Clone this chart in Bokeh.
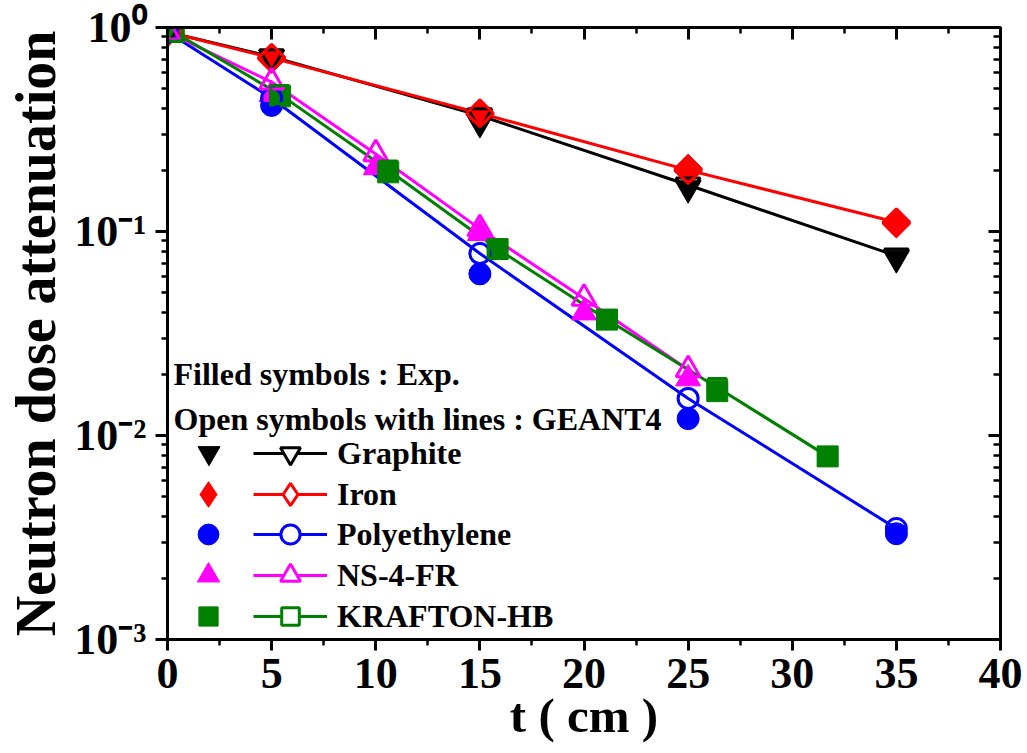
import numpy as np
from bokeh.plotting import figure
from bokeh.models import (LinearAxis, LogAxis, LogTicker, SingleIntervalTicker,
                          Label, Legend, LegendItem, CustomJSTickFormatter)
from bokeh.embed import file_html
from bokeh.resources import INLINE

# ---------------- data ----------------
graphite_t = [0, 5, 15, 25, 35]
graphite_exp = [0.95, 0.71, 0.34, 0.163, 0.074]
graphite_sim = [0.95, 0.72, 0.37, 0.169, 0.076]

iron_t = [0, 5, 15, 25, 35]
iron_exp = [0.95, 0.70, 0.375, 0.204, 0.109]
iron_sim = [0.95, 0.71, 0.38, 0.200, 0.111]

poly_t = [0, 5, 15, 25, 35]
poly_exp = [0.95, 0.415, 0.062, 0.0121, 0.0033]
poly_sim = [0.95, 0.45, 0.078, 0.0152, 0.0035]

ns_t = [0, 5, 10, 15, 20, 25]
ns_exp = [0.95, 0.47, 0.206, 0.098, 0.040, 0.019]
ns_sim = [0.95, 0.54, 0.240, 0.103, 0.047, 0.021]

kr_t = [0.3, 5.4, 10.6, 15.85, 21.1, 26.4, 31.7]
kr_exp = [0.95, 0.46, 0.195, 0.082, 0.037, 0.0165, 0.0079]
kr_sim = [0.95, 0.47, 0.200, 0.082, 0.037, 0.0172, 0.0079]

series_names = ["Graphite", "Iron", "Polyethylene", "NS-4-FR", "KRAFTON-HB"]
# y tick labels, indexed by -exponent (10^0, 10^-1, 10^-2, 10^-3)
y_tick_labels = ["10\u2070", "10\u207b\u00b9", "10\u207b\u00b2", "10\u207b\u00b3"]

header_exp = "Filled symbols : Exp."
header_sim = "Open symbols with lines : GEANT4"
x_title = "t ( cm )"
y_title = "Neutron dose attenuation"

FONT = "Liberation Serif"

p = figure(width=1027, height=753, x_range=(0, 40), y_range=(0.001, 1),
           y_axis_type="log", output_backend="svg", toolbar_location=None,
           min_border_left=167, min_border_right=27, min_border_top=27,
           min_border_bottom=114)
p.grid.visible = False
p.outline_line_color = "black"
p.outline_line_width = 3
p.background_fill_color = "white"
p.border_fill_color = "white"

# bottom axis
xa = p.xaxis[0]
xa.ticker = SingleIntervalTicker(interval=5, num_minor_ticks=2)
xa.major_tick_out = 11
xa.major_tick_in = 0
xa.minor_tick_out = 6
xa.minor_tick_in = 0
xa.axis_line_width = 3
xa.major_tick_line_width = 3
xa.minor_tick_line_width = 2.5
xa.major_label_text_font = FONT
xa.major_label_text_font_style = "bold"
xa.major_label_text_font_size = "44px"
xa.major_label_text_color = "black"
xa.major_label_standoff = 8
xa.axis_label = x_title
xa.axis_label_text_font = FONT
xa.axis_label_text_font_style = "bold"
xa.axis_label_text_font_size = "49px"
xa.axis_label_text_color = "black"
xa.axis_label_standoff = -3

# left axis
ya = p.yaxis[0]
ya.ticker = LogTicker(desired_num_ticks=4, num_minor_ticks=10)
ya.major_tick_out = 12
ya.major_tick_in = 0
ya.minor_tick_out = 6
ya.minor_tick_in = 0
ya.axis_line_width = 3
ya.major_tick_line_width = 3
ya.minor_tick_line_width = 2.5
ya.formatter = CustomJSTickFormatter(
    args=dict(labels=y_tick_labels),
    code="const i = Math.round(-Math.log10(tick)); return labels[i] ?? '';")
ya.major_label_text_font = FONT
ya.major_label_text_font_style = "bold"
ya.major_label_text_font_size = "44px"
ya.major_label_text_color = "black"
ya.major_label_standoff = 9
ya.axis_label = y_title
ya.axis_label_text_font = FONT
ya.axis_label_text_font_style = "bold"
ya.axis_label_text_font_size = "56px"
ya.axis_label_text_color = "black"
ya.axis_label_standoff = 4

# top & right mirror axes (ticks inside)
top = LinearAxis(ticker=SingleIntervalTicker(interval=5, num_minor_ticks=2),
                 major_tick_in=12, major_tick_out=0, minor_tick_in=6, minor_tick_out=0,
                 axis_line_width=3, major_tick_line_width=3, minor_tick_line_width=2.5,
                 formatter=CustomJSTickFormatter(code="return '';"))
p.add_layout(top, "above")
right = LogAxis(ticker=LogTicker(desired_num_ticks=4, num_minor_ticks=10),
                major_tick_in=12, major_tick_out=0, minor_tick_in=7, minor_tick_out=0,
                axis_line_width=3, major_tick_line_width=3, minor_tick_line_width=2.5,
                formatter=CustomJSTickFormatter(code="return '';"))
p.add_layout(right, "right")

# (t, exp, sim, colour, plot marker, legend marker, filled size, open size, angle,
#  legend glyph height filled, legend glyph height open)
specs = [
    (graphite_t, graphite_exp, graphite_sim, "black", "inverted_triangle", "inverted_triangle", 26, 24, 0, 55, 50),
    (iron_t, iron_exp, iron_sim, "#FF0000", "square", "diamond", 20, 19, np.pi / 4, 64, 56),
    (poly_t, poly_exp, poly_sim, "#0000FF", "circle", "circle", 22, 20, 0, 52, 48),
    (ns_t, ns_exp, ns_sim, "#FF00FF", "triangle", "triangle", 25, 24, 0, 56, 50),
    (kr_t, kr_exp, kr_sim, "#008000", "square", "square", 21, 18, 0, 48, 44),
]

line_renderers = []
for sp in specs:
    t, e, s, c = sp[:4]
    line_renderers.append(p.line(t, s, line_color=c, line_width=3))
for sp in specs:
    t, e, s, c, m, lm, fs, os_, ang = sp[:9]
    p.scatter(t, e, marker=m, size=fs, angle=ang, fill_color=c, line_color=c, line_width=1)
for sp in specs:
    t, e, s, c, m, lm, fs, os_, ang = sp[:9]
    p.scatter(t, s, marker=m, size=os_, angle=ang, fill_alpha=0, line_color=c, line_width=3)

# legend-only glyphs (no visible data point)
nan = [float("nan")]
row_y = [453, 494, 534, 575, 616]  # legend row centres, px from top of canvas
frame_bottom = 639
for i, (sp, name, lr) in enumerate(zip(specs, series_names, line_renderers)):
    c, lm, gh1, gh2 = sp[3], sp[5], sp[9], sp[10]
    rf = p.scatter(nan, nan, marker=lm, fill_color=c, line_color=c, line_width=1)
    ro = p.scatter(nan, nan, marker=lm, fill_color="white", line_color=c, line_width=3)
    leg1 = Legend(items=[LegendItem(label=" ", renderers=[rf])],
                  location=(41 - gh1 // 2, frame_bottom - row_y[i] - gh1 // 2),
                  glyph_width=gh1, glyph_height=gh1,
                  spacing=0, label_standoff=0, label_width=1, label_height=1,
                  padding=0, margin=0, border_line_color=None, background_fill_alpha=0,
                  label_text_font_size="8px")
    leg2 = Legend(items=[LegendItem(label=name, renderers=[lr, ro])],
                  location=(86, frame_bottom - row_y[i] - gh2 // 2), glyph_width=74, glyph_height=gh2,
                  spacing=0, label_standoff=10, label_width=1, label_height=1,
                  padding=0, margin=0, border_line_color=None, background_fill_alpha=0,
                  label_text_font=FONT, label_text_font_style="bold",
                  label_text_font_size="32px", label_text_color="black")
    p.add_layout(leg1, "center")
    p.add_layout(leg2, "center")

def txt(**kw):
    base = dict(text_font=FONT, text_font_style="bold", text_color="black")
    base.update(kw)
    p.add_layout(Label(**base))

txt(x=6, y=266, x_units="screen", y_units="screen", text=header_exp,
    text_align="left", text_baseline="middle", text_font_size="32px")
txt(x=6, y=221, x_units="screen", y_units="screen", text=header_sim,
    text_align="left", text_baseline="middle", text_font_size="32px")

open("out.html", "w").write(file_html(p, INLINE))
